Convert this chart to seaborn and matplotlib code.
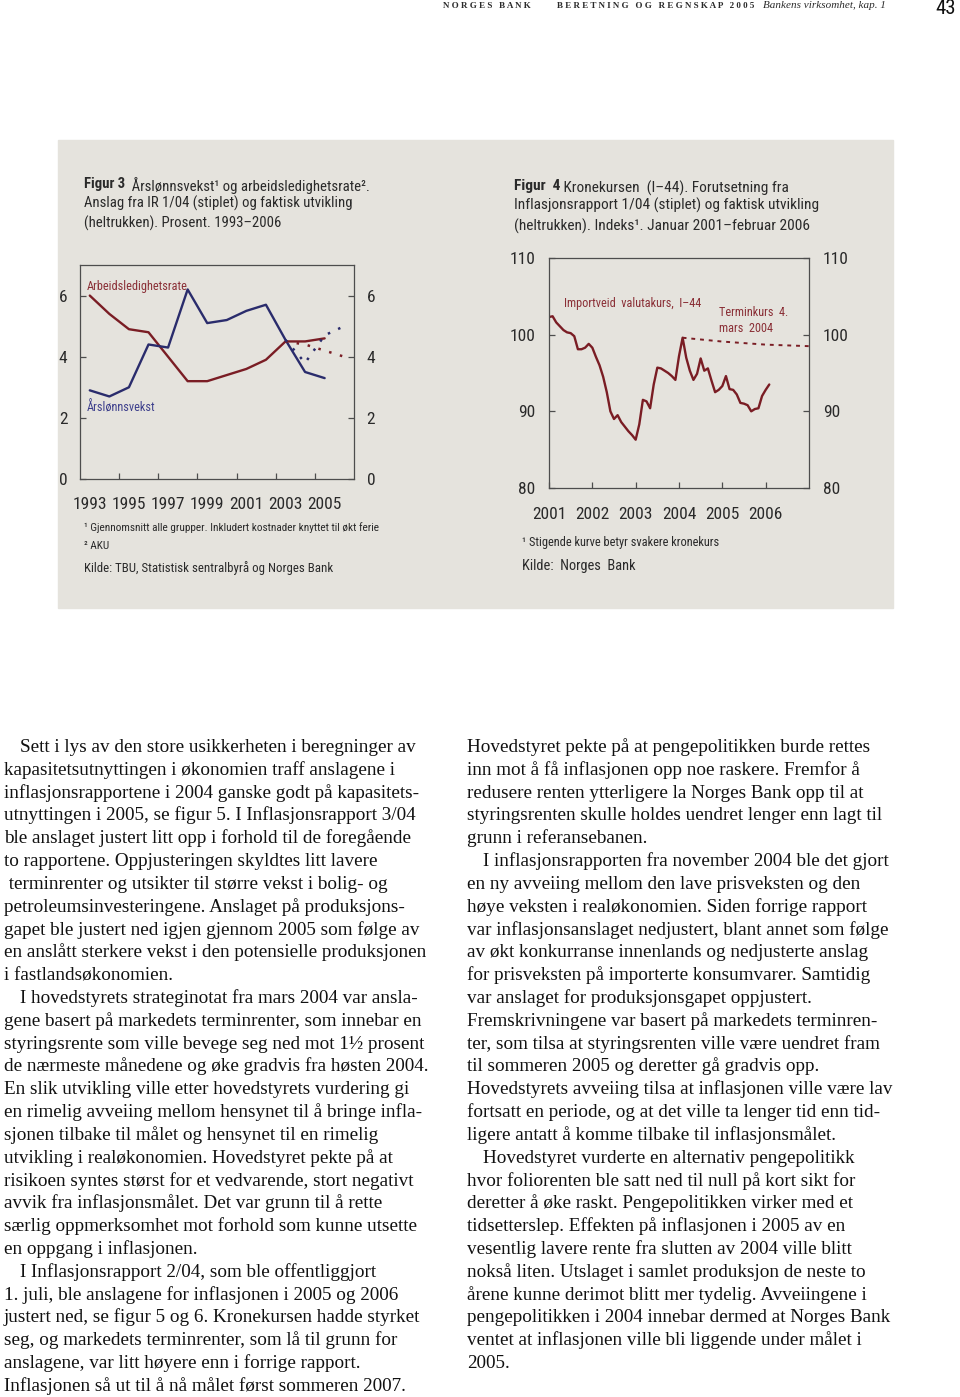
import numpy as np
import pandas as pd
import matplotlib
matplotlib.use("Agg")
import matplotlib.pyplot as plt
import seaborn as sns
from matplotlib.patches import Rectangle

# --------------------------------------------------------------------------
# Data
# --------------------------------------------------------------------------
years = list(range(1993, 2006))
wage_growth = [2.9, 2.7, 3.0, 4.4, 4.3, 6.2, 5.1, 5.2, 5.5, 5.7, 4.55, 3.5, 3.3]
unemployment = [6.0, 5.4, 4.9, 4.8, 4.0, 3.2, 3.2, 3.4, 3.6, 3.9, 4.5, 4.5, 4.6]
proj_years = [2003, 2004, 2005, 2006]
wage_proj = [4.55, 3.8, 4.7, 5.0]
unemp_proj = [4.5, 4.4, 4.2, 4.0]

krone_start = "2001-01"
krone_index = [102.3, 102.4, 101.6, 101.1, 100.6, 100.3, 100.2, 99.8, 98.1, 98.1,
               98.3, 98.8, 98.3, 97.1, 96.0, 94.5, 92.5, 90.0, 89.0, 89.5,
               88.6, 88.0, 87.4, 86.9, 86.3, 88.3, 91.5, 91.3, 90.4, 93.5,
               95.7, 95.6, 95.3, 95.0, 94.6, 94.1, 97.2, 99.6, 97.0, 95.3,
               94.1, 94.9, 96.9, 95.3, 95.6, 94.0, 92.5, 92.8, 93.3, 94.6,
               92.9, 92.8, 92.2, 91.1, 91.0, 90.8, 90.0, 90.3, 90.4, 92.0,
               92.8, 93.5]
forward_dates = ["2004-02", "2005-01", "2006-01", "2007-01"]
forward_index = [99.6, 99.1, 98.7, 98.5]

left_year_labels = [1993, 1995, 1997, 1999, 2001, 2003, 2005]
right_year_labels = [2001, 2002, 2003, 2004, 2005, 2006]

body_left = [
    "Sett i lys av den store usikkerheten i beregninger av",
    "kapasitetsutnyttingen i økonomien traff anslagene i",
    "inflasjonsrapportene i 2004 ganske godt på kapasitets-",
    "utnyttingen i 2005, se figur 5. I Inflasjonsrapport 3/04",
    "ble anslaget justert litt opp i forhold til de foregående",
    "to rapportene. Oppjusteringen skyldtes litt lavere",
    " terminrenter og utsikter til større vekst i bolig- og",
    "petroleumsinvesteringene. Anslaget på produksjons-",
    "gapet ble justert ned igjen gjennom 2005 som følge av",
    "en anslått sterkere vekst i den potensielle produksjonen",
    "i fastlandsøkonomien.",
    "I hovedstyrets strateginotat fra mars 2004 var ansla-",
    "gene basert på markedets terminrenter, som innebar en",
    "styringsrente som ville bevege seg ned mot 1½ prosent",
    "de nærmeste månedene og øke gradvis fra høsten 2004.",
    "En slik utvikling ville etter hovedstyrets vurdering gi",
    "en rimelig avveiing mellom hensynet til å bringe infla-",
    "sjonen tilbake til målet og hensynet til en rimelig",
    "utvikling i realøkonomien. Hovedstyret pekte på at",
    "risikoen syntes størst for et vedvarende, stort negativt",
    "avvik fra inflasjonsmålet. Det var grunn til å rette",
    "særlig oppmerksomhet mot forhold som kunne utsette",
    "en oppgang i inflasjonen.",
    "I Inflasjonsrapport 2/04, som ble offentliggjort",
    "1. juli, ble anslagene for inflasjonen i 2005 og 2006",
    "justert ned, se figur 5 og 6. Kronekursen hadde styrket",
    "seg, og markedets terminrenter, som lå til grunn for",
    "anslagene, var litt høyere enn i forrige rapport.",
    "Inflasjonen så ut til å nå målet først sommeren 2007.",
]
body_right = [
    "Hovedstyret pekte på at pengepolitikken burde rettes",
    "inn mot å få inflasjonen opp noe raskere. Fremfor å",
    "redusere renten ytterligere la Norges Bank opp til at",
    "styringsrenten skulle holdes uendret lenger enn lagt til",
    "grunn i referansebanen.",
    "I inflasjonsrapporten fra november 2004 ble det gjort",
    "en ny avveiing mellom den lave prisveksten og den",
    "høye veksten i realøkonomien. Siden forrige rapport",
    "var inflasjonsanslaget nedjustert, blant annet som følge",
    "av økt konkurranse innenlands og nedjusterte anslag",
    "for prisveksten på importerte konsumvarer. Samtidig",
    "var anslaget for produksjonsgapet oppjustert.",
    "Fremskrivningene var basert på markedets terminren-",
    "ter, som tilsa at styringsrenten ville være uendret fram",
    "til sommeren 2005 og deretter gå gradvis opp.",
    "Hovedstyrets avveiing tilsa at inflasjonen ville være lav",
    "fortsatt en periode, og at det ville ta lenger tid enn tid-",
    "ligere antatt å komme tilbake til inflasjonsmålet.",
    "Hovedstyret vurderte en alternativ pengepolitikk",
    "hvor foliorenten ble satt ned til null på kort sikt for",
    "deretter å øke raskt. Pengepolitikken virker med et",
    "tidsetterslep. Effekten på inflasjonen i 2005 av en",
    "vesentlig lavere rente fra slutten av 2004 ville blitt",
    "nokså liten. Utslaget i samlet produksjon de neste to",
    "årene kunne derimot blitt mer tydelig. Avveiingene i",
    "pengepolitikken i 2004 innebar dermed at Norges Bank",
    "ventet at inflasjonen ville bli liggende under målet i",
    "2005.",
]
indent_left = [0, 11, 23]
indent_right = [5, 18]

# --------------------------------------------------------------------------
# Style
# --------------------------------------------------------------------------
W, H = 960, 1397
RED = "#7a1d24"
BLUE = "#2a2c6c"
RED_TXT = "#8a2f36"
BLUE_TXT = "#3d3f8c"
PANEL = "#e5e3dd"
SPINE = "#4d4d4d"
TXT = "#2a2a2a"

sns.set_theme(style="ticks")
CHART_FONT = ["Roboto Condensed", "DejaVu Sans"]
SERIF = ["Liberation Serif", "DejaVu Serif"]
plt.rcParams["font.family"] = CHART_FONT
plt.rcParams["axes.edgecolor"] = SPINE
plt.rcParams["axes.linewidth"] = 0.9


def fx(x):
    return x / W


def fy(y):
    return 1 - y / H


fig = plt.figure(figsize=(W / 100, H / 100), dpi=100)
fig.patch.set_facecolor("white")
fig.add_artist(Rectangle((fx(58), fy(608)), fx(893) - fx(58), fy(140) - fy(608),
                         transform=fig.transFigure, color=PANEL, zorder=-5))


def style_axes(ax, ypad, xpad):
    ax.set_facecolor("none")
    for s in ax.spines.values():
        s.set_color(SPINE)
        s.set_linewidth(0.9)
    ax.tick_params(axis="y", which="both", direction="in", left=True, right=True,
                   labelleft=True, labelright=True, length=4, width=0.9,
                   color=SPINE, labelsize=12.5, pad=ypad, labelcolor=TXT)
    ax.tick_params(axis="x", which="both", direction="in", bottom=True, top=False,
                   length=4, width=0.9, color=SPINE, labelsize=12.5, pad=xpad,
                   labelcolor=TXT)
    ax.set_xlabel("")
    ax.set_ylabel("")


LBL = 8.8  # in-chart series labels

# ---- Figur 3 -------------------------------------------------------------
ax1 = fig.add_axes([fx(80), fy(479), fx(354) - fx(80), fy(265) - fy(479)])
sns.lineplot(x=years, y=unemployment, ax=ax1, color=RED, lw=1.7)
sns.lineplot(x=years, y=wage_growth, ax=ax1, color=BLUE, lw=1.7)
sns.lineplot(x=proj_years, y=unemp_proj, ax=ax1, color=RED, lw=1.8,
             linestyle=(0, (1, 3.5)))
sns.lineplot(x=proj_years, y=wage_proj, ax=ax1, color=BLUE, lw=1.8,
             linestyle=(0, (1, 3.5)))
ax1.set_xlim(1992.5, 2006.5)
ax1.set_ylim(0, 7)
ax1.set_yticks([0, 2, 4, 6])
ax1.set_xticks([y + 1.5 for y in left_year_labels[:-1]])
ax1.set_xticklabels([])
ax1.set_xticks(left_year_labels, minor=True)
ax1.set_xticklabels([str(y) for y in left_year_labels], minor=True)
style_axes(ax1, ypad=9, xpad=13)
ax1.tick_params(axis="x", which="minor", length=0)
ax1.text(1992.85, 6.3, "Arbeidsledighetsrate", color=RED_TXT, fontsize=LBL,
         va="center", ha="left")
ax1.text(1992.85, 2.33, "Årslønnsvekst", color=BLUE_TXT, fontsize=LBL,
         va="center", ha="left")

# ---- Figur 4 -------------------------------------------------------------
dates = pd.date_range(krone_start, periods=len(krone_index), freq="MS")
krone_x = dates.year + (dates.month - 1) / 12
fdates = pd.to_datetime(forward_dates)
forward_x = fdates.year + (fdates.month - 1) / 12

ax2 = fig.add_axes([fx(549), fy(488), fx(809) - fx(549), fy(258) - fy(488)])
sns.lineplot(x=krone_x, y=krone_index, ax=ax2, color=RED, lw=1.7)
sns.lineplot(x=forward_x, y=forward_index, ax=ax2, color=RED, lw=1.4,
             linestyle=(0, (2, 2.5)))
ax2.set_xlim(2001, 2007)
ax2.set_ylim(80, 110)
ax2.set_yticks([80, 90, 100, 110])
ax2.set_xticks(right_year_labels)
ax2.set_xticklabels([str(y) for y in right_year_labels])
style_axes(ax2, ypad=10, xpad=14)
ax2.text(2001.35, 104.1, "Importveid  valutakurs,  I\u201344", color=RED_TXT,
         fontsize=LBL, va="center", ha="left")
ax2.text(2004.92, 101.8, "Terminkurs  4.\nmars  2004", color=RED_TXT,
         fontsize=LBL, va="center", ha="left", linespacing=1.3)


# ---- titles and notes ------------------------------------------------------
def rich_first_line(x, y, bold, rest, size):
    t = fig.text(fx(x), fy(y), bold, fontsize=size, fontweight="bold",
                 color=TXT, va="baseline", ha="left")
    fig.add_artist(plt.Annotation(rest, xy=(1, 0), xycoords=t, fontsize=size,
                                  color=TXT, va="baseline", ha="left"))


TS_L = 10.6
TS_R = 11.1
rich_first_line(84, 188, "Figur 3", "  Årslønnsvekst\u00b9 og arbeidsledighetsrate\u00b2.", TS_L)
fig.text(fx(84), fy(208), "Anslag fra IR 1/04 (stiplet) og faktisk utvikling",
         fontsize=TS_L, color=TXT, va="baseline")
fig.text(fx(84), fy(228), "(heltrukken). Prosent. 1993\u20132006",
         fontsize=TS_L, color=TXT, va="baseline")

rich_first_line(514, 190, "Figur  4", " Kronekursen  (I\u201344). Forutsetning fra", TS_R)
fig.text(fx(514), fy(210), "Inflasjonsrapport 1/04 (stiplet) og faktisk utvikling",
         fontsize=TS_R, color=TXT, va="baseline")
fig.text(fx(514), fy(231), "(heltrukken). Indeks\u00b9. Januar 2001\u2013februar 2006",
         fontsize=TS_R, color=TXT, va="baseline")

fig.text(fx(84), fy(531), "\u00b9 Gjennomsnitt alle grupper. Inkludert kostnader knyttet til økt ferie",
         fontsize=8.1, color=TXT, va="baseline")
fig.text(fx(84), fy(549), "\u00b2 AKU", fontsize=8.1, color=TXT, va="baseline")
fig.text(fx(84), fy(572), "Kilde: TBU, Statistisk sentralbyrå og Norges Bank",
         fontsize=9.3, color=TXT, va="baseline")
fig.text(fx(522), fy(546), "\u00b9 Stigende kurve betyr svakere kronekurs",
         fontsize=8.9, color=TXT, va="baseline")
fig.text(fx(522), fy(570), "Kilde:  Norges  Bank",
         fontsize=10.4, color=TXT, va="baseline")

# ---- header ---------------------------------------------------------------
fig.text(fx(443), fy(8), "N O R G E S   B A N K", family=SERIF, fontsize=6.5,
         fontweight="bold", color=TXT, va="baseline")
fig.text(fx(557), fy(8), "B E R E T N I N G   O G   R E G N S K A P   2 0 0 5",
         family=SERIF, fontsize=6.5, fontweight="bold", color=TXT, va="baseline")
fig.text(fx(763), fy(8), "Bankens virksomhet, kap. 1", family=SERIF, fontsize=8,
         style="italic", color=TXT, va="baseline")
fig.text(fx(956), fy(14), "43", family=CHART_FONT, fontsize=15, color="#111111",
         va="baseline", ha="right")

# ---- body text ------------------------------------------------------------
LINE = 22.82
for i, line in enumerate(body_left):
    x = 20 if i in indent_left else 4
    fig.text(fx(x), fy(752 + i * LINE), line, family=SERIF, fontsize=13.8,
             color="#111111", va="baseline")
for i, line in enumerate(body_right):
    x = 483 if i in indent_right else 467
    fig.text(fx(x), fy(752 + i * LINE), line, family=SERIF, fontsize=13.8,
             color="#111111", va="baseline")

fig.savefig("out.png", dpi=100)
